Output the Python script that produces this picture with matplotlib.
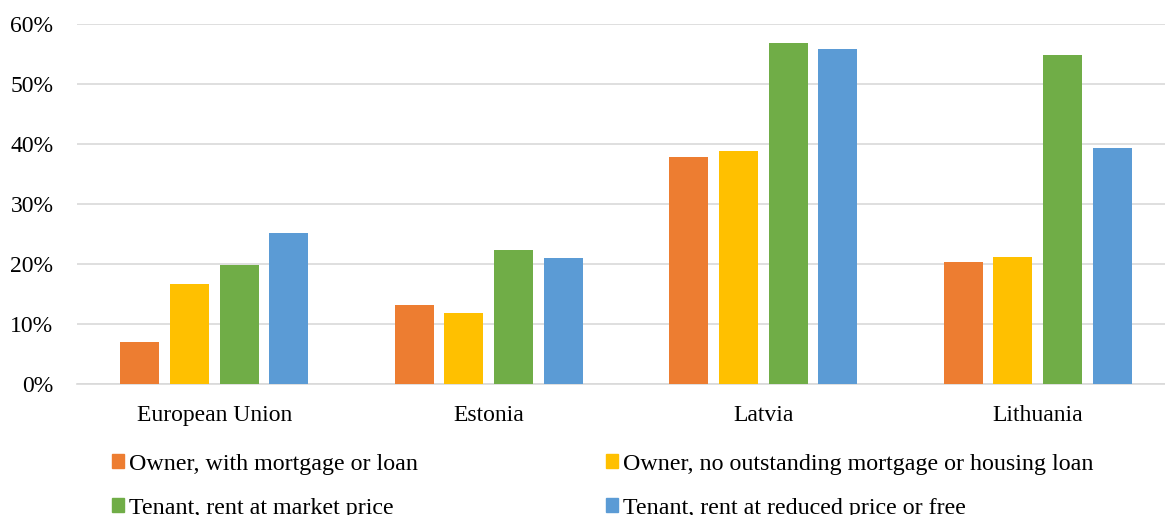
import matplotlib.pyplot as plt
import matplotlib.patches as mpatches
from matplotlib.ticker import PercentFormatter
import numpy as np

plt.rcParams['font.family'] = ['Liberation Serif', 'DejaVu Serif']

countries = ['European Union', 'Estonia', 'Latvia', 'Lithuania']
series_names = [
    'Owner, with mortgage or loan',
    'Owner, no outstanding mortgage or housing loan',
    'Tenant, rent at market price',
    'Tenant, rent at reduced price or free',
]
owner_mortgage = [7.0, 13.2, 37.8, 20.3]
owner_outright = [16.7, 11.8, 38.9, 21.1]
tenant_market = [19.8, 22.3, 56.9, 54.8]
tenant_reduced = [25.2, 21.0, 55.9, 39.3]
colors = ['#ED7D31', '#FFC000', '#70AD47', '#5B9BD5']

fig = plt.figure(figsize=(11.65, 5.15), dpi=100)
# plot area runs a little past the right edge of the image, as in the original
ax = fig.add_axes([77 / 1165, 1 - 384 / 515, 1098 / 1165, 360 / 515])

x = np.arange(len(countries))
step = 0.181
width = 0.142
all_series = [owner_mortgage, owner_outright, tenant_market, tenant_reduced]
for i, (vals, col) in enumerate(zip(all_series, colors)):
    ax.bar(x + (i - 1.5) * step, vals, width, color=col, zorder=3)

ax.set_xlim(-0.5, len(countries) - 0.5)
ax.set_ylim(0, 60)
ax.set_yticks(np.arange(0, 61, 10))
ax.yaxis.set_major_formatter(PercentFormatter(decimals=0))
ax.set_xticks(x)
ax.set_xticklabels(countries)
ax.tick_params(axis='both', length=0, labelsize=17, colors='black')
ax.tick_params(axis='x', pad=15)
ax.tick_params(axis='y', pad=17)
ax.grid(axis='y', color='#d9d9d9', linewidth=1.2, zorder=0)
for s in ['top', 'right', 'left']:
    ax.spines[s].set_visible(False)
ax.spines['bottom'].set_color('#d9d9d9')
ax.spines['bottom'].set_linewidth(1.2)

# legend fills column-wise, so order as orange, green, yellow, blue
# (second row sits at the bottom edge, partly cut off like the original)
order = [0, 2, 1, 3]
handles = [mpatches.Patch(color=colors[k], label=series_names[k]) for k in order]
fig.legend(handles=handles, ncol=2, frameon=False, fontsize=17.3,
           loc='upper left', bbox_to_anchor=(112 / 1165, 1 - 454 / 515),
           handlelength=0.52, handleheight=0.52, handletextpad=0.2,
           columnspacing=7.8, labelspacing=0.95, borderaxespad=0, borderpad=0)

fig.savefig('out.png', dpi=100)
